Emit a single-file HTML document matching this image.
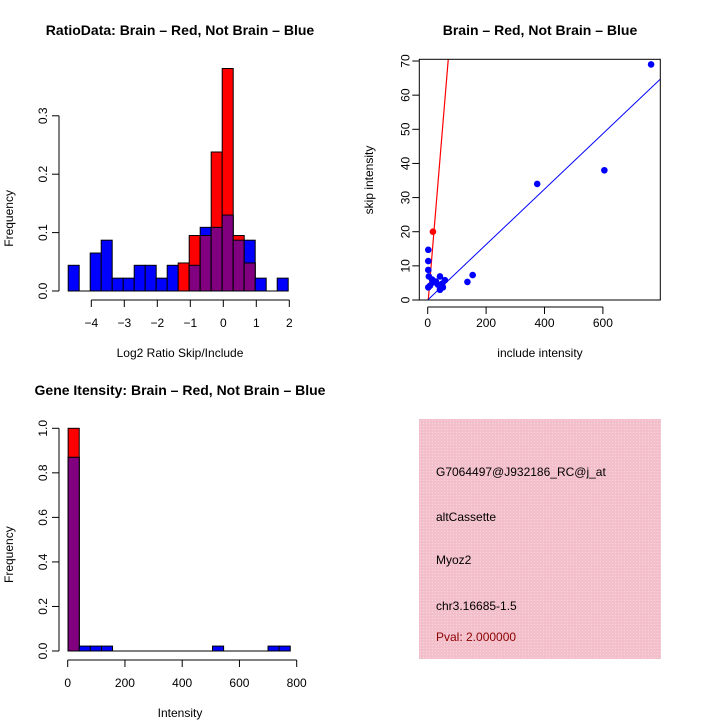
<!DOCTYPE html>
<html><head><meta charset="utf-8"><style>
body{margin:0;background:#fff}
svg{display:block;font-family:"Liberation Sans",sans-serif}
</style></head><body>
<svg id="c" width="720" height="720" viewBox="0 0 720 720" xmlns="http://www.w3.org/2000/svg">
<rect width="720" height="720" fill="#fff"/>
<defs><pattern id="hatch" width="3" height="3" patternUnits="userSpaceOnUse"><rect width="3" height="3" fill="#f3bfcb"/><rect width="1" height="1" fill="#f8d6de"/></pattern></defs>
<text x="180" y="35" text-anchor="middle" font-size="14" font-weight="bold">RatioData: Brain – Red, Not Brain – Blue</text>
<text x="540" y="35" text-anchor="middle" font-size="14" font-weight="bold">Brain – Red, Not Brain – Blue</text>
<text x="180" y="395" text-anchor="middle" font-size="14" font-weight="bold">Gene Itensity: Brain – Red, Not Brain – Blue</text>
<g id="h1"></g>
<g id="sc"></g>
<g id="h2"></g>
<g>
<rect x="419" y="419" width="242" height="240" fill="url(#hatch)"/>
<text x="436" y="476" font-size="12">G7064497@J932186_RC@j_at</text>
<text x="436" y="521" font-size="12">altCassette</text>
<text x="436" y="564" font-size="12">Myoz2</text>
<text x="436" y="610" font-size="12">chr3.16685-1.5</text>
<text x="436" y="641" font-size="12" fill="#8b0000">Pval: 2.000000</text>
</g>
</svg>
<script>
// Ratio histogram data
const ratioBinStart = -4.7;
const ratioBinWidth = 1/3;
const ratioBlue = [0.044,0,0.065,0.087,0.022,0.022,0.044,0.044,0.022,0.044,0,0.044,0.109,0.109,0.130,0.087,0.087,0.022,0,0.022];
const ratioRed  = [0,0,0,0,0,0,0,0,0,0,0.048,0.095,0.095,0.238,0.381,0.095,0.048,0,0,0];
const ratioXTicks = [-4,-3,-2,-1,0,1,2];
const ratioYTicks = [0,0.1,0.2,0.3];
// Scatter data
const notBrainX = [765,605,375,154,136,2,2,2,4,2,42,42,59,52,28,15,35,50,8,20];
const notBrainY = [69,38,34,7.3,5.3,14.7,11.4,8.8,6.9,3.7,6.9,3,5.8,3.7,5.4,6,4.5,4.8,4.2,5.2];
const brainX = [18];
const brainY = [20];
const redFit = [-2, 1.03];     // intercept, slope
const blueFit = [0, 0.0812];
const scXTicks = [0,200,400,600];
const scYTicks = [0,10,20,30,40,50,60,70];
// Intensity histogram data
const intBinStart = 1.5;
const intBinWidth = 38.8;
const intBlue = [0.87,0.022,0.022,0.022,0,0,0,0,0,0,0,0,0,0.022,0,0,0,0,0.022,0.022];
const intRed  = [1.0,0,0,0,0,0,0,0,0,0,0,0,0,0,0,0,0,0,0,0];
const intXTicks = [0,200,400,600,800];
const intYTicks = [0,0.2,0.4,0.6,0.8,1.0];

const NS="http://www.w3.org/2000/svg";
function mk(parent,tag,attrs,text){const e=document.createElementNS(NS,tag);for(const k in attrs)e.setAttribute(k,attrs[k]);if(text!==undefined)e.textContent=text;parent.appendChild(e);return e;}
function fmt(v){return (Math.round(v*10)/10).toFixed(Math.abs(v)<1.5&&v%1!==0||v===0?1:0);}

function hist(g,blue,red,start,width,sx,sy,baseY,axisY,xTicks,yTicks,yAxisX,yfmt,xlab,xlabY,prefix){
  for(let i=0;i<blue.length;i++){
    const x0=sx(start+i*width), x1=sx(start+(i+1)*width);
    const b=blue[i], r=red[i];
    if(b>0){const e=mk(g,'rect',{x:x0,y:sy(b),width:x1-x0,height:baseY-sy(b),fill:'#0000ff',stroke:'#000','stroke-width':1});
      
      }
    if(r>0){const e=mk(g,'rect',{x:x0,y:sy(r),width:x1-x0,height:baseY-sy(r),fill:'#ff0000',stroke:'#000','stroke-width':1});
      
      }
    const m=Math.min(b,r);
    if(m>0){const e=mk(g,'rect',{x:x0,y:sy(m),width:x1-x0,height:baseY-sy(m),fill:'#800080',stroke:'#000','stroke-width':1});
      
      }
  }
  mk(g,'line',{x1:sx(start),x2:sx(start+blue.length*width),y1:baseY,y2:baseY,stroke:'#000'});
  // x axis
  const xa=mk(g,'g',{});
  
  
  mk(xa,'line',{x1:sx(xTicks[0]),x2:sx(xTicks[xTicks.length-1]),y1:axisY,y2:axisY,stroke:'#000'});
  xTicks.forEach(t=>{mk(xa,'line',{x1:sx(t),x2:sx(t),y1:axisY,y2:axisY+7,stroke:'#000'});
    mk(xa,'text',{x:sx(t),y:axisY+27,'text-anchor':'middle','font-size':12},t<0?'−'+(-t):String(t));});
  const xl=mk(g,'text',{x:180,y:xlabY,'text-anchor':'middle','font-size':12},xlab);
  
  
  // y axis
  const ya=mk(g,'g',{});
  
  
  mk(ya,'line',{x1:yAxisX,x2:yAxisX,y1:sy(yTicks[0]),y2:sy(yTicks[yTicks.length-1]),stroke:'#000'});
  yTicks.forEach(t=>{mk(ya,'line',{x1:yAxisX-7,x2:yAxisX,y1:sy(t),y2:sy(t),stroke:'#000'});
    mk(ya,'text',{x:0,y:0,'text-anchor':'middle','font-size':12,transform:`translate(${yAxisX-12},${sy(t)}) rotate(-90)`},yfmt(t));});
  const yl=mk(g,'text',{x:0,y:0,'text-anchor':'middle','font-size':12,transform:`translate(13,${(sy(yTicks[0])+sy(yTicks[yTicks.length-1]))/2+15}) rotate(-90)`},'Frequency');
  
  
}

// Ratio histogram
hist(document.getElementById('h1'),ratioBlue,ratioRed,ratioBinStart,ratioBinWidth,
  v=>91.3+(v+4)*33, v=>291-v*584,291,300,ratioXTicks,ratioYTicks,59,t=>t.toFixed(1),'Log2 Ratio Skip/Include',357,'ratio');
// Intensity histogram
hist(document.getElementById('h2'),intBlue,intRed,intBinStart,intBinWidth,
  v=>67.7+v*0.28625, v=>651-v*222.7,651,660,intXTicks,intYTicks,59,t=>t.toFixed(1),'Intensity',717,'intensity');

// Scatter
(function(){
  const g=document.getElementById('sc');
  const sx=v=>427.7+v*0.292, sy=v=>300-v*3.414;
  const L=419.3,R=660.3,T=59.3,B=300;
  mk(g,'defs',{}).innerHTML='<clipPath id="scclip"><rect x="419.3" y="59.3" width="241" height="240.7"/></clipPath>';
  const lines=mk(g,'g',{'clip-path':'url(#scclip)'});
  const x0=-30,x1=900;
  const rl=mk(lines,'line',{x1:sx(x0),y1:sy(redFit[0]+redFit[1]*x0),x2:sx(x1),y2:sy(redFit[0]+redFit[1]*x1),stroke:'#ff0000','stroke-width':1.2});
  
  
  const bl=mk(lines,'line',{x1:sx(x0),y1:sy(blueFit[0]+blueFit[1]*x0),x2:sx(x1),y2:sy(blueFit[0]+blueFit[1]*x1),stroke:'#0000ff','stroke-width':1});
  
  
  notBrainX.forEach((x,i)=>{const c=mk(g,'circle',{cx:sx(x),cy:sy(notBrainY[i]),r:3.3,fill:'#0000ff'});
    
    });
  brainX.forEach((x,i)=>{const c=mk(g,'circle',{cx:sx(x),cy:sy(brainY[i]),r:3.3,fill:'#ff0000'});
    
    });
  mk(g,'rect',{x:L,y:T,width:R-L,height:B-T,fill:'none',stroke:'#000'});
  const xa=mk(g,'g',{});
  
  
  mk(xa,'line',{x1:sx(scXTicks[0]),x2:sx(scXTicks[scXTicks.length-1]),y1:B+7,y2:B+7,stroke:'#000'});
  scXTicks.forEach(t=>{mk(xa,'line',{x1:sx(t),x2:sx(t),y1:B+7,y2:B+14,stroke:'#000'});
    mk(xa,'text',{x:sx(t),y:B+27,'text-anchor':'middle','font-size':12},String(t));});
  const ya=mk(g,'g',{});
  
  
  scYTicks.forEach(t=>{mk(ya,'line',{x1:L-7,x2:L,y1:sy(t),y2:sy(t),stroke:'#000'});
    mk(ya,'text',{x:0,y:0,'text-anchor':'middle','font-size':12,transform:`translate(${L-10},${sy(t)}) rotate(-90)`},String(t));});
  const xl=mk(g,'text',{x:540,y:357,'text-anchor':'middle','font-size':12},'include intensity');
  
  
  const yl=mk(g,'text',{x:0,y:0,'text-anchor':'middle','font-size':12,transform:'translate(373,180) rotate(-90)'},'skip intensity');
  
  
})();
</script>
</body></html>
